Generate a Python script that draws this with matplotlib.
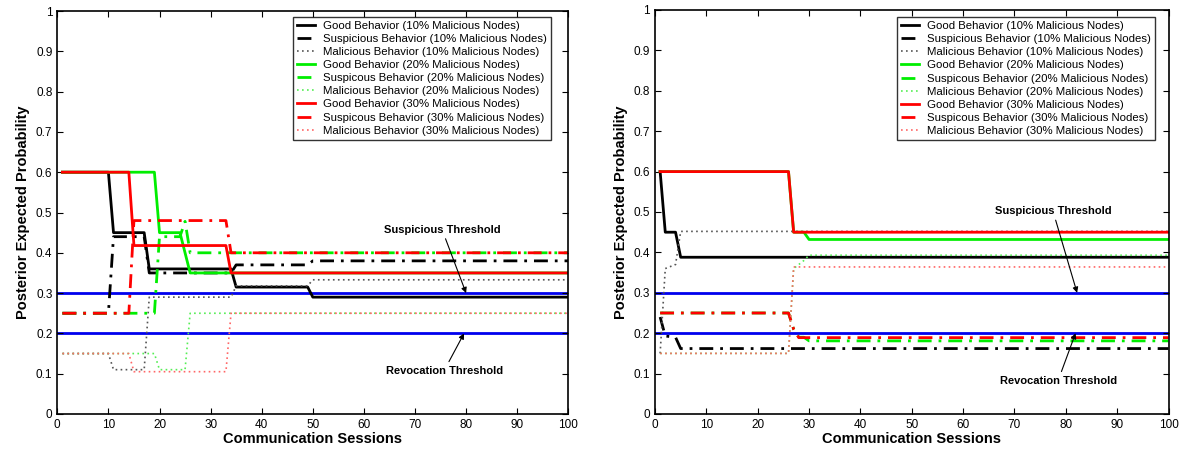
import numpy as np
import matplotlib
matplotlib.use("Agg")
import matplotlib.pyplot as plt

plt.rcParams['font.family'] = ['Liberation Sans', 'DejaVu Sans']

# ---- data: (session, value) breakpoints of each step curve ----
labels = [
    "Good Behavior (10% Malicious Nodes)",
    "Suspicious Behavior (10% Malicious Nodes)",
    "Malicious Behavior (10% Malicious Nodes)",
    "Good Behavior (20% Malicious Nodes)",
    "Suspicous Behavior (20% Malicious Nodes)",
    "Malicious Behavior (20% Malicious Nodes)",
    "Good Behavior (30% Malicious Nodes)",
    "Suspicous Behavior (30% Malicious Nodes)",
    "Malicious Behavior (30% Malicious Nodes)",
]

# left panel
left_good10_x = [1, 10, 11, 17, 18, 34, 35, 49, 50, 100]
left_good10_y = [0.60, 0.60, 0.45, 0.45, 0.36, 0.36, 0.315, 0.315, 0.29, 0.29]
left_susp10_x = [1, 10, 11, 17, 18, 34, 35, 49, 50, 100]
left_susp10_y = [0.25, 0.25, 0.44, 0.44, 0.35, 0.35, 0.37, 0.37, 0.38, 0.38]
left_mal10_x = [1, 10, 11, 17, 18, 34, 35, 49, 50, 100]
left_mal10_y = [0.15, 0.15, 0.11, 0.11, 0.29, 0.29, 0.318, 0.318, 0.333, 0.333]
left_good20_x = [1, 19, 20, 24, 26, 100]
left_good20_y = [0.60, 0.60, 0.45, 0.45, 0.35, 0.35]
left_susp20_x = [1, 19, 20, 24, 25, 26, 100]
left_susp20_y = [0.25, 0.25, 0.44, 0.44, 0.478, 0.40, 0.40]
left_mal20_x = [1, 19, 20, 25, 26, 100]
left_mal20_y = [0.15, 0.15, 0.11, 0.11, 0.25, 0.25]
left_good30_x = [1, 14, 15, 33, 34, 100]
left_good30_y = [0.60, 0.60, 0.418, 0.418, 0.35, 0.35]
left_susp30_x = [1, 14, 15, 33, 34, 100]
left_susp30_y = [0.25, 0.25, 0.48, 0.48, 0.40, 0.40]
left_mal30_x = [1, 14, 15, 33, 34, 100]
left_mal30_y = [0.15, 0.15, 0.105, 0.105, 0.25, 0.25]

# right panel
right_good10_x = [1, 2, 4, 5, 100]
right_good10_y = [0.60, 0.45, 0.45, 0.388, 0.388]
right_susp10_x = [1, 2, 4, 5, 100]
right_susp10_y = [0.24, 0.193, 0.19, 0.162, 0.162]
right_mal10_x = [1, 2, 4, 5, 100]
right_mal10_y = [0.15, 0.36, 0.37, 0.452, 0.452]
right_good20_x = [1, 26, 27, 29, 30, 100]
right_good20_y = [0.60, 0.60, 0.45, 0.45, 0.432, 0.432]
right_susp20_x = [1, 26, 27, 28, 29, 30, 100]
right_susp20_y = [0.25, 0.25, 0.21, 0.19, 0.19, 0.181, 0.181]
right_mal20_x = [1, 26, 27, 29, 30, 100]
right_mal20_y = [0.15, 0.15, 0.36, 0.38, 0.393, 0.393]
right_good30_x = [1, 26, 27, 100]
right_good30_y = [0.60, 0.60, 0.45, 0.45]
right_susp30_x = [1, 26, 27, 28, 100]
right_susp30_y = [0.25, 0.25, 0.21, 0.189, 0.189]
right_mal30_x = [1, 26, 27, 100]
right_mal30_y = [0.15, 0.15, 0.364, 0.364]

suspicious_threshold = 0.3
revocation_threshold = 0.2

left_series = [
    (left_good10_x, left_good10_y), (left_susp10_x, left_susp10_y), (left_mal10_x, left_mal10_y),
    (left_good20_x, left_good20_y), (left_susp20_x, left_susp20_y), (left_mal20_x, left_mal20_y),
    (left_good30_x, left_good30_y), (left_susp30_x, left_susp30_y), (left_mal30_x, left_mal30_y),
]
right_series = [
    (right_good10_x, right_good10_y), (right_susp10_x, right_susp10_y), (right_mal10_x, right_mal10_y),
    (right_good20_x, right_good20_y), (right_susp20_x, right_susp20_y), (right_mal20_x, right_mal20_y),
    (right_good30_x, right_good30_y), (right_susp30_x, right_susp30_y), (right_mal30_x, right_mal30_y),
]

colors = ['black', 'black', '#555555', '#00ee00', '#00ee00', '#55ee55', 'red', 'red', '#ff6666']
dashdot = (0, (5, 2.5, 1, 2.5))
styles = ['-', dashdot, (0, (1, 2)),
          '-', dashdot, (0, (1, 2)),
          '-', dashdot, (0, (1, 2))]
widths = [2, 2, 1.2, 2, 2, 1.2, 2, 2, 1.2]

fig = plt.figure(figsize=(11.85, 4.49), dpi=100)
ax1 = fig.add_axes([57.3 / 1185, 35 / 449, 511 / 1185, 403 / 449])
ax2 = fig.add_axes([655 / 1185, 35 / 449, 513.5 / 1185, 404 / 449])


def draw(ax, series, ann, leg_anchor):
    ax.axhline(suspicious_threshold, color='#0000ee', lw=2, zorder=1)
    ax.axhline(revocation_threshold, color='#0000ee', lw=2, zorder=1)
    for (x, y), c, ls, lw, lab in zip(series, colors, styles, widths, labels):
        ax.plot(x, y, color=c, ls=ls, lw=lw, label=lab, zorder=2)
    ax.set_xlim(0, 100)
    ax.set_ylim(0, 1)
    ax.set_xticks(np.arange(0, 101, 10))
    ax.set_yticks(np.arange(0, 1.01, 0.1))
    ax.set_yticklabels(['0'] + ['%.1f' % v for v in np.arange(0.1, 0.95, 0.1)] + ['1'])
    ax.tick_params(direction='in', top=True, right=True, labelsize=8.5, length=4)
    for s in ax.spines.values():
        s.set_linewidth(1.2)
    ax.set_xlabel("Communication Sessions", fontsize=10.5, fontweight='bold', labelpad=1)
    ax.set_ylabel("Posterior Expected Probability", fontsize=10.5, fontweight='bold', labelpad=4)
    leg = ax.legend(loc='upper right', bbox_to_anchor=leg_anchor, fontsize=8.2, frameon=True,
                    fancybox=False, edgecolor='black', handlelength=1.6, handletextpad=0.7,
                    labelspacing=0.27, borderpad=0.35, borderaxespad=0)
    leg.get_frame().set_linewidth(1.0)
    (st, sa), (rt, ra) = ann
    ax.annotate("Suspicious Threshold", xy=(sa, suspicious_threshold), xytext=st,
                ha='center', va='bottom', fontsize=8, fontweight='bold',
                arrowprops=dict(arrowstyle='-|>', color='black', lw=0.8, shrinkA=1, shrinkB=0))
    ax.annotate("Revocation Threshold", xy=(ra, revocation_threshold), xytext=rt,
                ha='center', va='top', fontsize=8, fontweight='bold',
                arrowprops=dict(arrowstyle='-|>', color='black', lw=0.8, shrinkA=1, shrinkB=0))


draw(ax1, left_series, (((75.3, 0.445), 80), ((75.7, 0.12), 79.6)), (0.966, 0.985))
draw(ax2, right_series, (((77.5, 0.49), 82.2), ((78.5, 0.095), 81.9)), (0.974, 0.982))

fig.savefig("out.png", dpi=100)
